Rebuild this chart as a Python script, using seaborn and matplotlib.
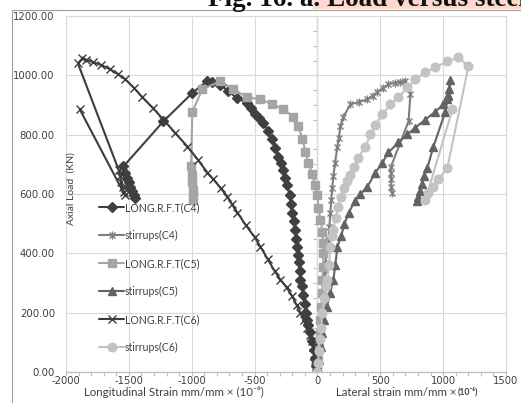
import matplotlib
matplotlib.use("Agg")
import matplotlib.pyplot as plt
import seaborn as sns
from matplotlib.path import Path
from matplotlib.lines import Line2D
from matplotlib.patches import Rectangle
from matplotlib.ticker import MultipleLocator, FuncFormatter

# ---------------------------------------------------------------- data
# strain in mm/mm x 1e-6 (negative = longitudinal, positive = lateral), load in kN
c4_long_strain = [0, -8, -18, -30, -45, -60, -72, -80, -90, -100, -112, -125, -135, -142,
                  -150, -155, -160, -168, -178, -188, -199, -210, -222, -239, -255, -270,
                  -290, -310, -335, -358, -395, -430, -465, -493, -525, -557, -637, -708,
                  -772, -840, -880, -994, -1225, -1543, -1530, -1515, -1500, -1490, -1475,
                  -1460, -1450]
c4_long_load = [0, 20, 45, 75, 105, 135, 160, 176, 200, 230, 260, 290, 311, 340,
                370, 395, 422, 450, 480, 510, 537, 565, 595, 630, 655, 680,
                705, 726, 755, 784, 812, 841, 855, 868, 890, 907, 922, 946,
                968, 978, 980, 941, 845, 693, 670, 655, 640, 625, 610,
                598, 588]

c4_stir_strain = [0, 5, 12, 18, 26, 33, 40, 46, 52, 58, 64, 75, 88, 95, 103, 110, 118, 127,
                  140, 159, 170, 183, 207, 263, 330, 398, 440, 477, 520, 565, 620, 660, 700,
                  740, 725, 583, 585, 586, 588, 590]
c4_stir_load = [0, 30, 60, 100, 140, 176, 220, 260, 300, 340, 368, 410, 446, 490, 537, 580,
                620, 660, 705, 760, 790, 828, 861, 902, 910, 919, 932, 943, 957, 970, 975,
                976, 980, 938, 845, 690, 670, 650, 625, 605]

c5_long_strain = [0, 4, 10, 18, 24, 32, 38, 40, 44, 48, 42, 40, 24, 8, 0, -20, -40, -72, -95,
                  -119, -151, -191, -270, -358, -453, -557, -668, -772, -915, -995, -1005,
                  -1000, -995, -992, -990, -988]
c5_long_load = [0, 40, 84, 130, 176, 220, 265, 311, 355, 402, 436, 473, 514, 554, 598, 630,
                666, 706, 743, 784, 828, 861, 885, 902, 919, 926, 953, 980, 953, 878, 693,
                665, 640, 615, 595, 580]

c5_stir_strain = [0, 10, 25, 40, 55, 75, 100, 127, 142, 159, 190, 215, 250, 295, 342, 398,
                  461, 517, 565, 644, 716, 780, 859, 939, 1002, 1034, 1042, 1050, 1058, 1040,
                  1018, 923, 875, 850, 830, 815, 800, 790]
c5_stir_load = [0, 40, 84, 130, 176, 220, 265, 311, 360, 422, 460, 500, 537, 575, 600, 625,
                672, 706, 740, 774, 801, 824, 851, 878, 902, 919, 935, 955, 985, 930,
                878, 760, 689, 660, 635, 610, 590, 575]

c6_long_strain = [0, -8, -16, -24, -32, -45, -60, -80, -105, -135, -165, -200, -245, -294,
                  -340, -395, -453, -500, -570, -636, -680, -716, -770, -827, -875, -950,
                  -1034, -1130, -1225, -1310, -1392, -1460, -1527, -1590, -1647, -1720,
                  -1782, -1840, -1870, -1905, -1580, -1570, -1560, -1550, -1540, -1530, -1890]
c6_long_load = [0, 20, 40, 60, 84, 105, 125, 150, 175, 199, 225, 255, 285, 311,
                340, 380, 422, 455, 495, 537, 565, 591, 620, 649, 672, 715,
                760, 805, 851, 890, 926, 958, 986, 1005, 1020, 1035,
                1044, 1053, 1057, 1040, 680, 660, 640, 622, 608, 595, 885]

c6_stir_strain = [0, 5, 12, 20, 30, 40, 55, 70, 80, 92, 103, 115, 127, 145, 165, 185, 210,
                  238, 263, 290, 326, 382, 422, 461, 517, 581, 644, 716, 780, 859, 939, 1034,
                  1122, 1201, 1034, 963, 923, 883, 859, 1074]
c6_stir_load = [0, 30, 70, 110, 150, 199, 250, 290, 311, 360, 422, 460, 480, 520, 557, 590,
                620, 645, 665, 690, 723, 760, 801, 834, 868, 902, 926, 959, 986, 1010, 1027,
                1047, 1061, 1030, 689, 649, 625, 605, 581, 885]

labels = ["LONG.R.F.T(C4)", "stirrups(C4)", "LONG.R.F.T(C5)",
          "stirrups(C5)", "LONG.R.F.T(C6)", "stirrups(C6)"]

x_ticks_step = 500
x_limits = (-2000, 1500)
y_limits = (0, 1200)

# ---------------------------------------------------------------- style
sns.set_theme(style="white")
plt.rcParams["font.family"] = ["Lato", "DejaVu Sans"]
plt.rcParams["axes.unicode_minus"] = False

text_col = "#404040"
grid_col = "#d9d9d9"
axis_col = "#bfbfbf"

# asterisk-like "star" marker: vertical bar plus a cross
star = Path([(0, -1), (0, 1), (-0.75, -0.75), (0.75, 0.75), (-0.75, 0.75), (0.75, -0.75)],
            [Path.MOVETO, Path.LINETO, Path.MOVETO, Path.LINETO, Path.MOVETO, Path.LINETO])

series = [
    (c4_long_strain, c4_long_load, "#404040", "D", 4.6),
    (c4_stir_strain, c4_stir_load, "#7f7f7f", star, 5.8),
    (c5_long_strain, c5_long_load, "#a5a5a5", "s", 6.2),
    (c5_stir_strain, c5_stir_load, "#636363", "^", 6.0),
    (c6_long_strain, c6_long_load, "#3c3c3c", "x", 5.6),
    (c6_stir_strain, c6_stir_load, "#c3c3c3", "o", 6.2),
]

fig = plt.figure(figsize=(5.21, 4.03), dpi=100)
ax = fig.add_axes([66 / 521, 31 / 403, 440 / 521, 356 / 403])

for (xs, ys, col, mk, ms), lab in zip(series, labels):
    sns.lineplot(x=xs, y=ys, sort=False, estimator=None, ax=ax, label=lab,
                 color=col, linewidth=1.5, marker=mk, markersize=ms,
                 markerfacecolor=col, markeredgecolor=col, markeredgewidth=1.0)

ax.set_xlim(*x_limits)
ax.set_ylim(*y_limits)
ax.set_xlabel("")
ax.set_ylabel("")

ax.xaxis.set_major_locator(MultipleLocator(x_ticks_step))
ax.xaxis.set_minor_locator(MultipleLocator(100))
ax.yaxis.set_major_locator(MultipleLocator(200))
ax.yaxis.set_major_formatter(FuncFormatter(lambda v, p: f"{v:.2f}"))

ax.grid(True, which="major", color=grid_col, linewidth=0.8)
ax.set_axisbelow(True)
for side in ("left", "top", "right"):
    ax.spines[side].set_color(grid_col)
    ax.spines[side].set_linewidth(0.8)
ax.spines["bottom"].set_color(axis_col)
ax.spines["bottom"].set_linewidth(0.9)

ax.tick_params(axis="y", which="both", length=0, pad=8, labelsize=7.3, labelcolor=text_col)
ax.tick_params(axis="x", which="both", direction="out", length=2.6, width=0.8,
               color=axis_col, pad=0.3, labelsize=7.2, labelcolor=text_col, bottom=True)
for lbl in ax.get_xticklabels() + ax.get_yticklabels():
    lbl.set_family("DejaVu Sans")

# value axis crossing at zero strain
sec = ax.secondary_yaxis((0 - x_limits[0]) / (x_limits[1] - x_limits[0]))
sec.yaxis.set_major_locator(MultipleLocator(200))
sec.yaxis.set_minor_locator(MultipleLocator(50))
sec.yaxis.set_ticks_position("left")
sec.tick_params(which="both", direction="out", length=3, width=0.8, color=axis_col,
                labelleft=False, labelright=False)
for s in sec.spines.values():
    s.set_color(axis_col)
    s.set_linewidth(0.9)

leg = ax.legend(loc="upper left", bbox_to_anchor=(0.075, 0.477), frameon=False,
                fontsize=7.6, labelspacing=1.6, handlelength=2.4, handletextpad=0.05,
                borderpad=0, borderaxespad=0, labelcolor=text_col)

# axis titles
ax.text(0.011, 0.514, "Axial Load  (KN)", transform=ax.transAxes, rotation=90,
        ha="center", va="center", fontsize=7.5, color=text_col)
fig.text(174 / 521, 1 - 392 / 403, "Longitudinal Strain mm/mm × (10⁻⁶)",
         ha="center", va="center", fontsize=8.3, color=text_col)
fig.text(457 / 521, 1 - 392 / 403, "Lateral strain mm/mm ×",
         ha="right", va="center", fontsize=8.3, color=text_col)
fig.text(458 / 521, 1 - 392 / 403, "(10⁻⁶)", ha="left", va="center",
         fontsize=6.2, fontweight="bold", color=text_col)

# chart-area frame
fy = 1 - 9.5 / 403
fig.add_artist(Line2D([12 / 521, 12 / 521], [0, fy], color="#a0a0a0", lw=0.8))
fig.add_artist(Line2D([12 / 521, 1], [fy, fy], color="#a0a0a0", lw=0.8))

# caption above the chart
fig.add_artist(Rectangle((313 / 521, 1 - 7.5 / 403), 1 - 313 / 521, 7.5 / 403,
                         transform=fig.transFigure, color="#fcd8cd", zorder=0.5))
fig.text(208 / 521, 1 - 6 / 403, "Fig. 16. a. Load versus steel", ha="left",
         va="baseline", family="Liberation Serif", fontweight="bold", fontsize=19.5,
         color="#111111", zorder=3)

fig.savefig("out.png", dpi=100)
